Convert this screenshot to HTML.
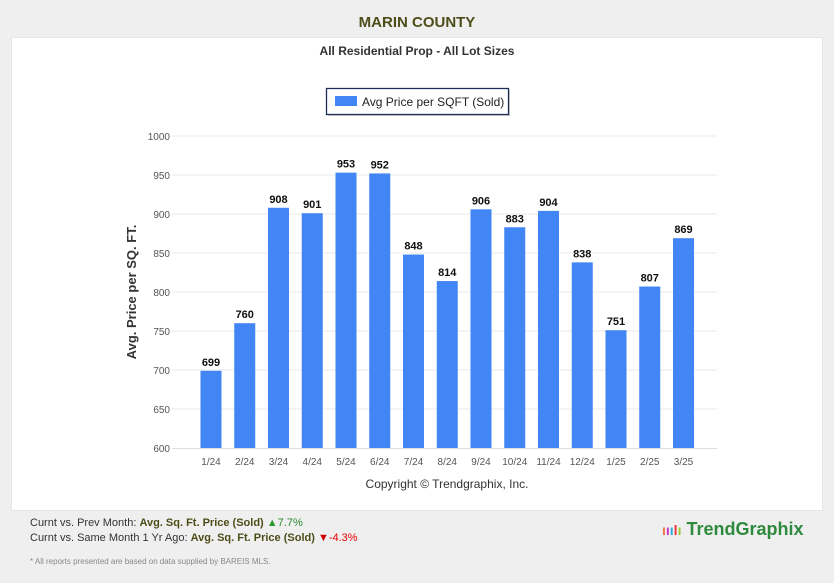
<!DOCTYPE html>
<html><head><meta charset="utf-8"><style>
body{margin:0;width:834px;height:583px;background:#efefef;font-family:"Liberation Sans",sans-serif;position:relative;overflow:hidden}
.card{position:absolute;left:11px;top:37px;width:812px;height:474px;background:#fff;border:1px solid #e6e6e6;box-sizing:border-box}
.t{position:absolute;white-space:nowrap}
</style></head><body>
<div class="t" style="left:0;width:834px;top:14px;text-align:center;font-weight:bold;font-size:15px;color:#4d4d1a">MARIN COUNTY</div>
<div class="card"></div>
<div class="t" style="left:0;width:834px;top:44px;text-align:center;font-weight:bold;font-size:12px;color:#333">All Residential Prop - All Lot Sizes</div>
<svg style="position:absolute;left:0;top:0" width="834" height="583">
<rect x="326.5" y="88.5" width="182" height="26" fill="#fff" stroke="#1c2e55" stroke-width="1.3"/>
<line x1="328" y1="115.5" x2="510" y2="115.5" stroke="#bbb"/><line x1="509.5" y1="90" x2="509.5" y2="116" stroke="#bbb"/>
<rect x="335" y="96" width="22" height="10" fill="#4285f4"/>
<text x="362" y="106" font-size="12" fill="#222" font-family="Liberation Sans">Avg Price per SQFT (Sold)</text>
<g font-size="10" fill="#555" text-anchor="end" font-family="Liberation Sans">
<g stroke="#e8e8e8">
<line x1="172" x2="717" y1="136" y2="136"/><line x1="172" x2="717" y1="175" y2="175"/><line x1="172" x2="717" y1="214" y2="214"/><line x1="172" x2="717" y1="253" y2="253"/><line x1="172" x2="717" y1="292" y2="292"/><line x1="172" x2="717" y1="331" y2="331"/><line x1="172" x2="717" y1="370" y2="370"/><line x1="172" x2="717" y1="409" y2="409"/><line x1="172" x2="717" y1="448.5" y2="448.5" stroke="#ddd"/>
</g>
<text x="170" y="140">1000</text><text x="170" y="179">950</text><text x="170" y="218">900</text><text x="170" y="257">850</text><text x="170" y="296">800</text><text x="170" y="335">750</text><text x="170" y="374">700</text><text x="170" y="413">650</text><text x="170" y="452">600</text>
</g>
<text transform="translate(136,292) rotate(-90)" text-anchor="middle" font-size="13" font-weight="bold" fill="#333" font-family="Liberation Sans">Avg. Price per SQ. FT.</text>
<g id="bars" font-family="Liberation Sans"></g>
<text x="447" y="488" text-anchor="middle" font-size="12" fill="#333" font-family="Liberation Sans">Copyright © Trendgraphix, Inc.</text>
</svg>
<div class="t" style="left:30px;top:517px;font-size:11px;color:#333">Curnt vs. Prev Month: <b style="color:#4d4d1a">Avg. Sq. Ft. Price (Sold)</b> <span style="color:#2a9a2a">▲</span><span style="color:#2a8a2a">7.7%</span></div>
<div class="t" style="left:30px;top:532px;font-size:11px;color:#333">Curnt vs. Same Month 1 Yr Ago: <b style="color:#4d4d1a">Avg. Sq. Ft. Price (Sold)</b> <span style="color:#c00">▼</span><span style="color:#e00">-4.3%</span></div>
<div class="t" style="left:30px;top:557px;font-size:8px;color:#888">* All reports presented are based on data supplied by BAREIS MLS.</div>
<div class="t" style="left:662px;top:519px;font-size:18px;font-weight:bold;color:#2e8b3e"><span style="color:#e74;font-size:14px">ı<span style="color:#c3c">ı</span><span style="color:#3ad">ı</span><span style="color:#e33">l</span><span style="color:#9c3">ı</span></span> TrendGraphix</div>
<script>
var v=[699,760,908,901,953,952,848,814,906,883,904,838,751,807,869],l=["1/24","2/24","3/24","4/24","5/24","6/24","7/24","8/24","9/24","10/24","11/24","12/24","1/25","2/25","3/25"],s="";
v.forEach(function(d,i){var c=211+33.75*i,y=136+(1000-d)*0.78;
s+='<rect x="'+(c-10.5)+'" y="'+y+'" width="21" height="'+(448-y)+'" fill="#4285f4"/>';
s+='<text x="'+c+'" y="'+(y-5)+'" text-anchor="middle" font-size="11" font-weight="bold" fill="#111">'+d+'</text>';
s+='<text x="'+c+'" y="465" text-anchor="middle" font-size="10" fill="#555">'+l[i]+'</text>';});
document.getElementById("bars").innerHTML=s;
</script>
</body></html>
